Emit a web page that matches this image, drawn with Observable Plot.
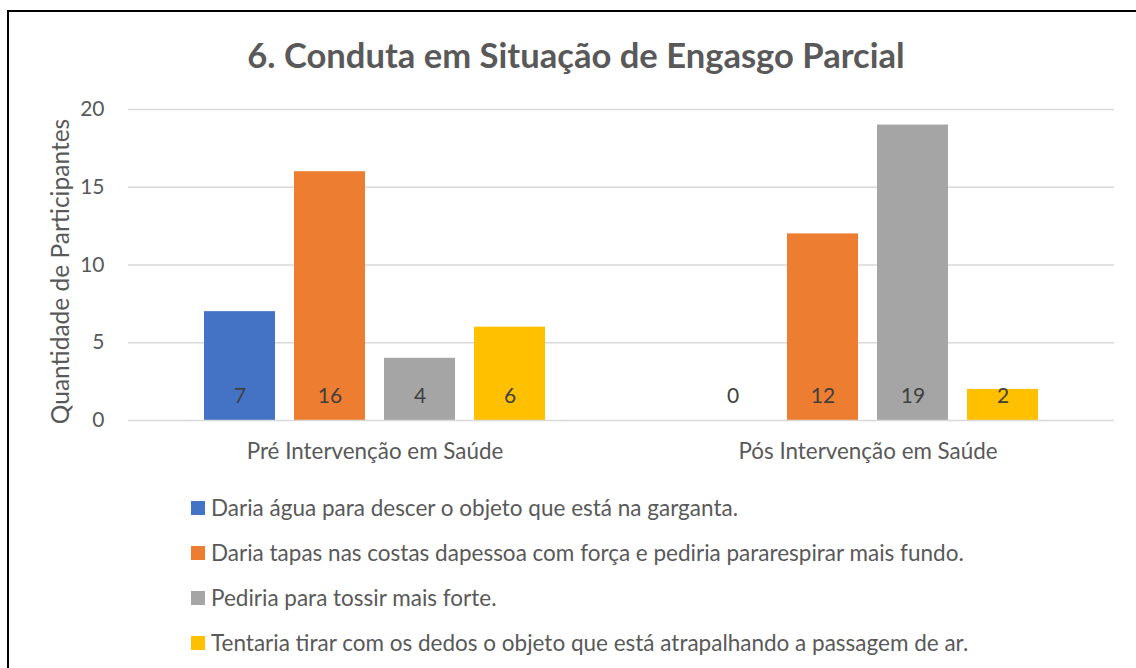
<!DOCTYPE html>
<html><head><meta charset="utf-8">
<script src="https://cdn.jsdelivr.net/npm/d3@7"></script>
<script src="https://cdn.jsdelivr.net/npm/@observablehq/plot@0.6"></script>
<style>
body{margin:0;background:#fff;font-family:Lato, sans-serif;}
#wrap{position:relative;width:1136px;height:668px;overflow:hidden;background:#fff;}
#border{position:absolute;left:7px;top:10px;width:1200px;height:700px;border:2px solid #000;}
#title{position:absolute;left:0;width:1152px;top:34px;text-align:center;font-size:34.6px;font-weight:bold;color:#595959;line-height:42px;}
#chart{position:absolute;left:0;top:90px;}
#legend{position:absolute;left:191px;top:485px;}
.item{display:flex;align-items:center;height:45px;font-size:22.5px;color:#595959;}
.sw{width:14px;height:14px;margin-right:6px;flex:none;}
</style></head>
<body>
<div id="wrap">
  <div id="border"></div>
  <div id="title">6. Conduta em Situação de Engasgo Parcial</div>
  <div id="chart"></div>
  <div id="legend"></div>
</div>
<script>
const groups = ["Pré Intervenção em Saúde", "Pós Intervenção em Saúde"];
const series = [
  "Daria água para descer o objeto que está na garganta.",
  "Daria tapas nas costas dapessoa com força e pediria pararespirar mais fundo.",
  "Pediria para tossir mais forte.",
  "Tentaria tirar com os dedos o objeto que está atrapalhando a passagem de ar."
];
const colors = ["#4472C4", "#ED7D31", "#A5A5A5", "#FFC000"];
const preValues = [7, 16, 4, 6];
const posValues = [0, 12, 19, 2];
const yTicks = [0, 5, 10, 15, 20];
const yLabel = "Quantidade de Participantes";

const data = [];
series.forEach((s, i) => {
  data.push({group: groups[0], series: s, value: preValues[i]});
  data.push({group: groups[1], series: s, value: posValues[i]});
});

const chart = Plot.plot({
  width: 1136, height: 390,
  marginLeft: 128, marginRight: 22, marginTop: 19, marginBottom: 60,
  style: {fontFamily: "Lato, sans-serif", fontSize: "20px", color: "#595959", background: "transparent"},
  fx: {domain: groups, padding: 0, label: null, axis: null},
  x: {domain: series, axis: null, paddingInner: 0.211, paddingOuter: 0.844},
  y: {domain: [0, 20], axis: null},
  color: {domain: series, range: colors},
  marks: [
    Plot.gridY(yTicks.slice(1), {stroke: "#d9d9d9", strokeOpacity: 1, strokeWidth: 1.3}),
    Plot.barY(data, {fx: "group", x: "series", y: "value", fill: "series"}),
    Plot.ruleY([0], {stroke: "#d9d9d9", strokeWidth: 1.5}),
    Plot.text(data, {fx: "group", x: "series", y: 0, dy: -24, text: d => String(d.value), fill: "#404040", fontSize: 21}),
    Plot.axisY({ticks: yTicks, tickSize: 0, tickPadding: 24, label: null, fontSize: 21, color: "#595959"}),
    Plot.text([groups[0]], {fx: d => d, frameAnchor: "left", dx: -67, dy: 6.5, rotate: -90, text: () => yLabel, fontSize: 24.5, fill: "#595959", textAnchor: "middle"}),
    Plot.axisFx({anchor: "bottom", tickSize: 0, tickPadding: 23, label: null, fontSize: 22.4, color: "#595959"})
  ]
});
document.getElementById("chart").appendChild(chart);

const legend = document.getElementById("legend");
series.forEach((s, i) => {
  const it = document.createElement("div");
  it.className = "item";
  const sw = document.createElement("span");
  sw.className = "sw";
  sw.style.background = colors[i];
  const tx = document.createElement("span");
  tx.textContent = s;
  it.appendChild(sw); it.appendChild(tx);
  legend.appendChild(it);
});
</script>
</body></html>
